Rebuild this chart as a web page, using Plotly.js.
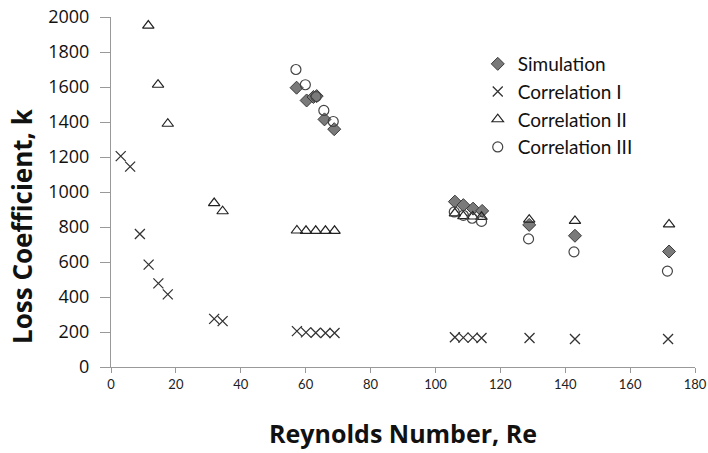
<!DOCTYPE html>
<html><head><meta charset="utf-8">
<script src="https://cdn.plot.ly/plotly-3.0.1.min.js"></script>
<style>html,body{margin:0;padding:0;background:#fff}#c{width:708px;height:453px}</style>
</head><body><div id="c"></div>
<script>
const simX = [57.2, 60.3, 62.4, 63.4, 65.8, 68.8, 106.0, 108.6, 111.6, 114.4, 128.9, 143.0, 172.0];
const simY = [1596, 1523, 1543, 1548, 1415, 1359, 945, 925, 905, 892, 812, 750, 660];
const c1X = [3.0, 5.9, 8.9, 11.6, 14.6, 17.5, 31.8, 34.4, 57.3, 60.1, 63.1, 66.1, 68.9, 106.0, 108.6, 111.5, 114.2, 129.0, 143.0, 171.7];
const c1Y = [1205, 1145, 760, 585, 478, 415, 275, 262, 205, 198, 196, 194, 194, 170, 168, 168, 166, 166, 160, 160];
const c2X = [11.5, 14.5, 17.5, 31.8, 34.4, 57.3, 60.1, 63.1, 66.1, 68.9, 106.0, 108.6, 111.5, 114.2, 128.9, 143.0, 172.0];
const c2Y = [1951, 1613, 1390, 937, 890, 780, 778, 778, 778, 778, 878, 862, 860, 858, 842, 835, 815];
const c3X = [57.0, 59.9, 63.2, 65.6, 68.5, 105.8, 108.6, 111.3, 114.2, 128.7, 142.7, 171.5];
const c3Y = [1700, 1613, 1545, 1466, 1403, 886, 867, 850, 832, 732, 658, 548];
const names = ["Simulation", "Correlation I", "Correlation II", "Correlation III"];
const xTicks = [0, 20, 40, 60, 80, 100, 120, 140, 160, 180];
const yTicks = [0, 200, 400, 600, 800, 1000, 1200, 1400, 1600, 1800, 2000];
const xTitle = 'Reynolds Number, Re';
const yTitle = 'Loss Coefficient, k';

const FONT = 'Lato, Open Sans, sans-serif';
const BOLD = 'Open Sans, Liberation Sans, sans-serif';
const traces = [
  {x: simX, y: simY, name: names[0], type: 'scatter', mode: 'markers',
   marker: {symbol: 'diamond', size: 10, color: '#7a7a7a', line: {color: '#3a3a3a', width: 1}}},
  {x: c1X, y: c1Y, name: names[1], type: 'scatter', mode: 'markers',
   marker: {symbol: 'x-thin', size: 10, color: '#333', line: {color: '#333', width: 1.3}}},
  {x: c2X, y: c2Y, name: names[2], type: 'scatter', mode: 'markers',
   marker: {symbol: 'triangle-up-open', size: 10, color: '#222', line: {color: '#222', width: 1.2}}},
  {x: c3X, y: c3Y, name: names[3], type: 'scatter', mode: 'markers',
   marker: {symbol: 'circle-open', size: 10, color: '#444', line: {color: '#444', width: 1.2}}}
];

const layout = {
  width: 708, height: 453,
  margin: {l: 111, r: 13, t: 17, b: 86},
  paper_bgcolor: '#fff', plot_bgcolor: '#fff',
  showlegend: true,
  legend: {x: 0.628, y: 0.92, xanchor: 'left', yanchor: 'top', bgcolor: 'rgba(0,0,0,0)',
           font: {family: FONT, size: 19, color: '#111'}, itemwidth: 30},
  xaxis: {range: [0, 180], tickvals: xTicks, ticks: 'outside', ticklen: 5, tickcolor: '#999',
          showgrid: false, zeroline: false, showline: true, linecolor: '#999', linewidth: 1,
          tickfont: {family: FONT, size: 13, color: '#222'},
          title: {text: xTitle, standoff: 34,
                  font: {family: BOLD, size: 25, color: '#111', weight: 'bold'}}},
  yaxis: {range: [0, 2000], tickvals: yTicks, ticks: 'outside', ticklen: 10, tickcolor: '#999',
          ticklabelstandoff: 7,
          showgrid: false, zeroline: false, showline: true, linecolor: '#999', linewidth: 1,
          tickfont: {family: BOLD, size: 18, color: '#111'}},
  annotations: [{text: yTitle, textangle: -90, xref: 'paper', yref: 'paper',
                 x: -0.1524, y: 0.403, xanchor: 'center', yanchor: 'middle', showarrow: false,
                 font: {family: BOLD, size: 26, color: '#111', weight: 'bold'}}]
};
Plotly.newPlot('c', traces, layout, {displayModeBar: false, staticPlot: true});
</script></body></html>
